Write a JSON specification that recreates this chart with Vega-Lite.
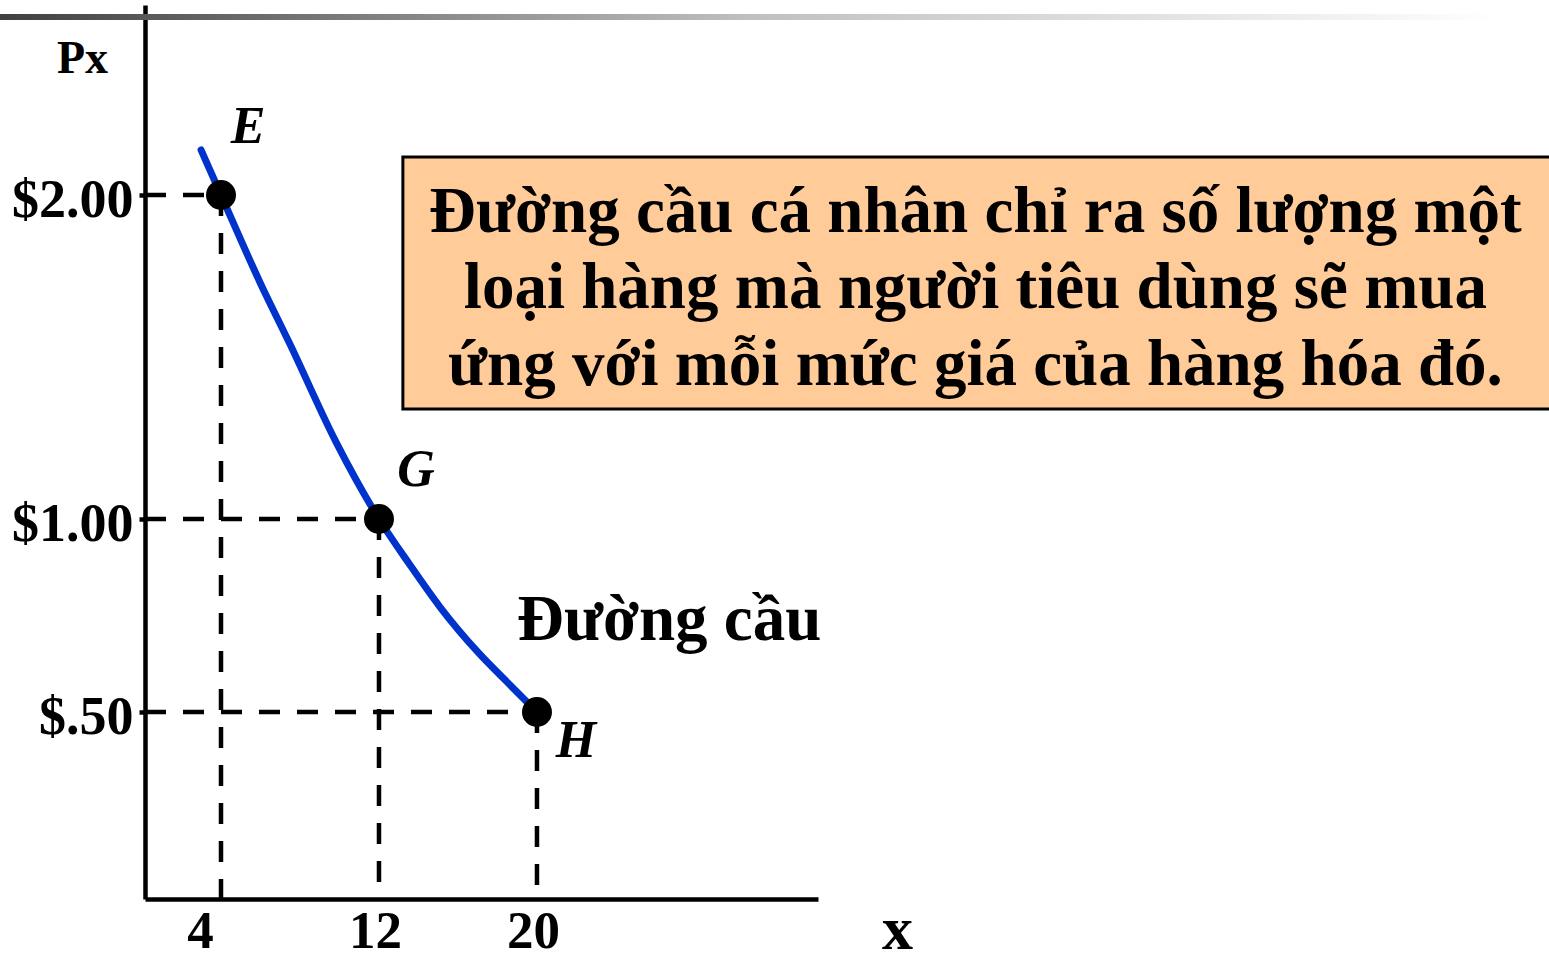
{
  "$schema": "https://vega.github.io/schema/vega-lite/v6.json",
  "autosize": "none",
  "padding": {"left": 145, "top": 5, "right": 731, "bottom": 63},
  "width": 673,
  "height": 894,
  "background": "white",
  "config": {"view": {"stroke": null}, "font": "Liberation Serif"},
  "encoding": {
    "x": {
      "field": "q", "type": "quantitative",
      "scale": {"domain": [0.152, 34.23], "nice": false, "zero": false},
      "axis": {
        "title": "x", "titleFont": "Liberation Serif", "titleFontSize": 62, "titleFontWeight": "bold",
        "titleX": 752, "titleY": 49, "titleBaseline": "alphabetic", "titleAlign": "center", "titleColor": "black",
        "values": [4, 12, 20], "ticks": false, "grid": false,
        "domainColor": "black", "domainWidth": 4.5,
        "labelFont": "Liberation Serif", "labelFontSize": 53, "labelFontWeight": "bold", "labelColor": "black",
        "labelBaseline": "top", "labelPadding": 6,
        "labelOffset": {"condition": {"test": "datum.value == 4", "value": -21}, "value": -4}
      }
    },
    "y": {
      "field": "p", "type": "quantitative",
      "scale": {"domain": [0, 0.5, 1, 2, 2.586], "range": [894, 707, 514, 190, 0], "nice": false, "zero": false},
      "axis": {
        "title": "Px", "titleFont": "Liberation Serif", "titleFontSize": 46, "titleFontWeight": "bold",
        "titleAngle": 0, "titleX": -63, "titleY": 67, "titleBaseline": "alphabetic", "titleAlign": "center", "titleColor": "black",
        "values": [0.5, 1, 2], "grid": false,
        "tickSize": 6, "tickWidth": 4.5, "tickColor": "black",
        "domainColor": "black", "domainWidth": 4.5,
        "labelFont": "Liberation Serif", "labelFontSize": 54, "labelFontWeight": "bold", "labelColor": "black",
        "labelPadding": 6, "labelOffset": 5,
        "labelExpr": "datum.value == 0.5 ? '$.50' : '$' + format(datum.value, '.2f')"
      }
    }
  },
  "layer": [
    {
      "data": {"values": [{"q": -7.19, "q2": 68.76, "p": 2.558, "p2": 2.540}]},
      "mark": {"type": "rect", "fill": {"gradient": "linear", "x1": 0, "y1": 0, "x2": 1, "y2": 0,
        "stops": [{"offset": 0, "color": "#404040"}, {"offset": 0.5, "color": "#c0c0c0"}, {"offset": 1, "color": "#ffffff"}]}},
      "encoding": {"x2": {"field": "q2"}, "y2": {"field": "p2"}}
    },
    {
      "data": {"values": [{"q": 13.21, "q2": 72, "p": 2.117, "p2": 1.3395}]},
      "mark": {"type": "rect", "fill": "#FFCC99", "stroke": "black", "strokeWidth": 3},
      "encoding": {"x2": {"field": "q2"}, "y2": {"field": "p2"}}
    },
    {
      "data": {"values": [
        {"q": 42.2, "p": 1.886, "label": "Đường cầu cá nhân chỉ ra số lượng một"},
        {"q": 42.2, "p": 1.651, "label": "loại hàng mà người tiêu dùng sẽ mua"},
        {"q": 42.2, "p": 1.414, "label": "ứng với mỗi mức giá của hàng hóa đó."}
      ]},
      "mark": {"type": "text", "font": "Liberation Serif", "fontSize": 65, "fontWeight": "bold", "align": "center", "baseline": "alphabetic", "color": "black"},
      "encoding": {"text": {"field": "label"}}
    },
    {
      "data": {"values": [{"q": 4, "p": 2, "p2": -0.03}, {"q": 12, "p": 1, "p2": 0}, {"q": 20, "p": 0.5, "p2": 0}]},
      "mark": {"type": "rule", "color": "black", "strokeWidth": 4.5, "strokeDash": [21, 17]},
      "encoding": {"y2": {"field": "p2"}}
    },
    {
      "data": {"values": [{"q": 0.152, "q2": 4, "p": 2}, {"q": 0.152, "q2": 12, "p": 1}, {"q": 0.152, "q2": 20, "p": 0.5}]},
      "mark": {"type": "rule", "color": "black", "strokeWidth": 4.5, "strokeDash": [21, 17]},
      "encoding": {"x2": {"field": "q2"}}
    },
    {
      "data": {"values": [
        {"q": 2.99, "p": 2.139},
        {"q": 4, "p": 2},
        {"q": 5.97, "p": 1.731},
        {"q": 7.49, "p": 1.540},
        {"q": 9.82, "p": 1.238},
        {"q": 12, "p": 1},
        {"q": 13.57, "p": 0.881},
        {"q": 15.09, "p": 0.772},
        {"q": 17.01, "p": 0.655},
        {"q": 18.48, "p": 0.578},
        {"q": 20, "p": 0.5}
      ]},
      "mark": {"type": "line", "color": "#0033CC", "strokeWidth": 7, "strokeCap": "round", "interpolate": "monotone"},
      "encoding": {"order": {"field": "q", "type": "quantitative"}}
    },
    {
      "data": {"values": [{"q": 4, "p": 2, "label": "E"}, {"q": 12, "p": 1, "label": "G"}, {"q": 20, "p": 0.5, "label": "H"}]},
      "layer": [
        {"mark": {"type": "point", "filled": true, "color": "black", "size": 900, "opacity": 1}},
        {"transform": [{"filter": "datum.label == 'E'"}],
         "mark": {"type": "text", "font": "Liberation Serif", "fontSize": 52, "fontWeight": "bold", "fontStyle": "italic", "align": "center", "baseline": "alphabetic", "dx": 27, "dy": -52, "color": "black"},
         "encoding": {"text": {"field": "label"}}},
        {"transform": [{"filter": "datum.label == 'G'"}],
         "mark": {"type": "text", "font": "Liberation Serif", "fontSize": 52, "fontWeight": "bold", "fontStyle": "italic", "align": "center", "baseline": "alphabetic", "dx": 37, "dy": -33, "color": "black"},
         "encoding": {"text": {"field": "label"}}},
        {"transform": [{"filter": "datum.label == 'H'"}],
         "mark": {"type": "text", "font": "Liberation Serif", "fontSize": 52, "fontWeight": "bold", "fontStyle": "italic", "align": "center", "baseline": "alphabetic", "dx": 39, "dy": 45, "color": "black"},
         "encoding": {"text": {"field": "label"}}}
      ]
    },
    {
      "data": {"values": [{"q": 18.99, "p": 0.6865, "label": "Đường cầu"}]},
      "mark": {"type": "text", "font": "Liberation Serif", "fontSize": 65, "fontWeight": "bold", "align": "left", "baseline": "alphabetic", "color": "black"},
      "encoding": {"text": {"field": "label"}}
    }
  ]
}
